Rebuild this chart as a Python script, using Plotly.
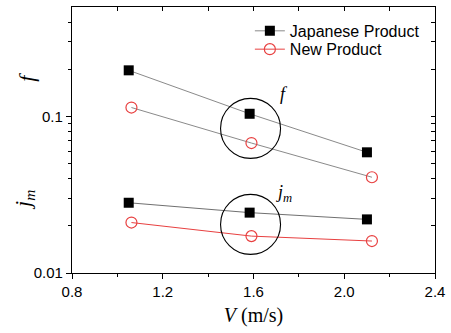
import math
import plotly.graph_objects as go

# ---- data ----
velocity_jp = [1.05, 1.583, 2.10]
velocity_new = [1.062, 1.591, 2.122]
f_japanese = [0.197, 0.104, 0.059]
f_new = [0.114, 0.0676, 0.0409]
jm_japanese = [0.0281, 0.0243, 0.0220]
jm_new = [0.0210, 0.0172, 0.0160]

x_ticks = [0.8, 1.2, 1.6, 2.0, 2.4]
x_minor = [1.0, 1.4, 1.8, 2.2]
y_ticks = [0.01, 0.1]
y_ticklabels = ["0.01", "0.1"]
y_minor = [0.02, 0.03, 0.04, 0.05, 0.06, 0.07, 0.08, 0.09, 0.2, 0.3, 0.4]

X_RANGE = [0.8, 2.4]
Y_RANGE_LOG = [-2, math.log10(0.5)]

RED = "rgb(232,64,64)"
GRAY = "#8a8a8a"
SANS = "Liberation Sans, Arial, sans-serif"
SERIF = "Liberation Serif, Times New Roman, serif"

fig = go.Figure()

sq = dict(symbol="square", size=10, color="black", line=dict(width=0))
circ = dict(symbol="circle-open", size=11, color=RED, line=dict(width=1.2, color=RED))

fig.add_trace(go.Scatter(x=velocity_jp, y=f_japanese, mode="lines+markers",
                         name="Japanese Product", line=dict(color=GRAY, width=1),
                         marker=sq, showlegend=True, legend="legend"))
fig.add_trace(go.Scatter(x=velocity_new, y=f_new, mode="lines+markers",
                         name="New Product f", line=dict(color=GRAY, width=1),
                         marker=circ, showlegend=False))
fig.add_trace(go.Scatter(x=velocity_jp, y=jm_japanese, mode="lines+markers",
                         name="Japanese Product jm", line=dict(color="#707070", width=1),
                         marker=sq, showlegend=False))
fig.add_trace(go.Scatter(x=velocity_new, y=jm_new, mode="lines+markers",
                         name="New Product", line=dict(color=RED, width=1),
                         marker=circ, showlegend=True, legend="legend2"))
# helper traces for overlay tick axes
for xa, ya in (("x2", "y2"), ("x3", "y3")):
    fig.add_trace(go.Scatter(x=[1.6], y=[0.05], mode="markers", xaxis=xa, yaxis=ya,
                             marker=dict(opacity=0), showlegend=False, hoverinfo="skip"))


def ypaper(v):
    return (math.log10(v) - Y_RANGE_LOG[0]) / (Y_RANGE_LOG[1] - Y_RANGE_LOG[0])


# circles around the middle points
groups = [
    (velocity_jp[1], velocity_new[1], f_japanese[1], f_new[1], "<i>f</i>", 33, 34),
    (velocity_jp[1], velocity_new[1], jm_japanese[1], jm_new[1], "<i>j<sub>m</sub></i>", 33, 17),
]
for xa, xb, ya, yb, label, dx, dy in groups:
    cx = (xa + xb) / 2
    cy = (ypaper(ya) + ypaper(yb)) / 2
    fig.add_shape(type="circle", xref="x", yref="paper", xsizemode="pixel", ysizemode="pixel",
                  xanchor=cx, yanchor=cy, x0=-30, x1=30, y0=-30, y1=30,
                  line=dict(color="black", width=1.1))
    fig.add_annotation(x=cx, y=cy, xref="x", yref="paper", text=label, showarrow=False,
                       xshift=dx, yshift=dy, font=dict(family=SERIF, size=18, color="black"))

# y-axis titles
fig.add_annotation(x=-0.124, y=0.738, xref="paper", yref="paper", text="<i>f</i>",
                   xanchor="center", yanchor="middle",
                   textangle=-90, showarrow=False, font=dict(family=SERIF, size=22, color="black"))
fig.add_annotation(x=-0.132, y=0.275, xref="paper", yref="paper", text="<i>j<sub>m</sub></i>",
                   xanchor="center", yanchor="middle",
                   textangle=-90, showarrow=False, font=dict(family=SERIF, size=22, color="black"))

common = dict(showgrid=False, zeroline=False, linecolor="black", tickcolor="black", tickwidth=1)
xcommon = dict(range=X_RANGE, **common)
ycommon = dict(type="log", range=Y_RANGE_LOG, **common)

fig.update_layout(
    width=451, height=333,
    margin=dict(l=72, r=12, t=6, b=60),
    paper_bgcolor="white", plot_bgcolor="rgba(0,0,0,0)",
    showlegend=True,
    legend=dict(x=0.49, y=0.974, xanchor="left", yanchor="top", bgcolor="rgba(0,0,0,0)",
                font=dict(family=SANS, size=16, color="black")),
    legend2=dict(x=0.49, y=0.905, xanchor="left", yanchor="top", bgcolor="rgba(0,0,0,0)",
                 font=dict(family=SANS, size=16, color="black")),
    xaxis=dict(tickmode="linear", tick0=x_ticks[0], dtick=x_ticks[1] - x_ticks[0],
               tickformat=".1f", ticks="outside",
               ticklen=5, showline=True, linewidth=1.3, mirror=True,
               minor=dict(ticks="outside", ticklen=3, dtick=x_minor[0] - x_ticks[0],
                          tick0=x_ticks[0], tickcolor="black", showgrid=False),
               tickfont=dict(family=SANS, size=15, color="black"),
               title=dict(text="<i>V</i> (m/s)", font=dict(family=SERIF, size=20, color="black"),
                          standoff=8),
               **xcommon),
    yaxis=dict(tickmode="array", tickvals=y_ticks, ticktext=y_ticklabels, ticks="outside",
               ticklen=5, showline=True, linewidth=1.3, mirror=True,
               tickfont=dict(family=SANS, size=15, color="black"),
               **ycommon),
    # top / right: inside ticks (major + minor)
    xaxis2=dict(overlaying="x", anchor="y2", side="top", tickmode="array",
                tickvals=x_ticks + x_minor, ticks="inside", ticklen=4,
                showticklabels=False, showline=False, **xcommon),
    yaxis2=dict(overlaying="y", anchor="x2", side="right", tickmode="array",
                tickvals=y_ticks + y_minor, ticks="inside", ticklen=4,
                showticklabels=False, showline=False, **ycommon),
    # left: short outside minor ticks
    xaxis3=dict(overlaying="x", anchor="y3", side="bottom", tickmode="array", tickvals=[],
                ticks="", showticklabels=False, showline=False, **xcommon),
    yaxis3=dict(overlaying="y", anchor="x3", side="left", tickmode="array", tickvals=y_minor,
                ticks="outside", ticklen=3, showticklabels=False, showline=False, **ycommon),
)

fig.write_html("out.html")
